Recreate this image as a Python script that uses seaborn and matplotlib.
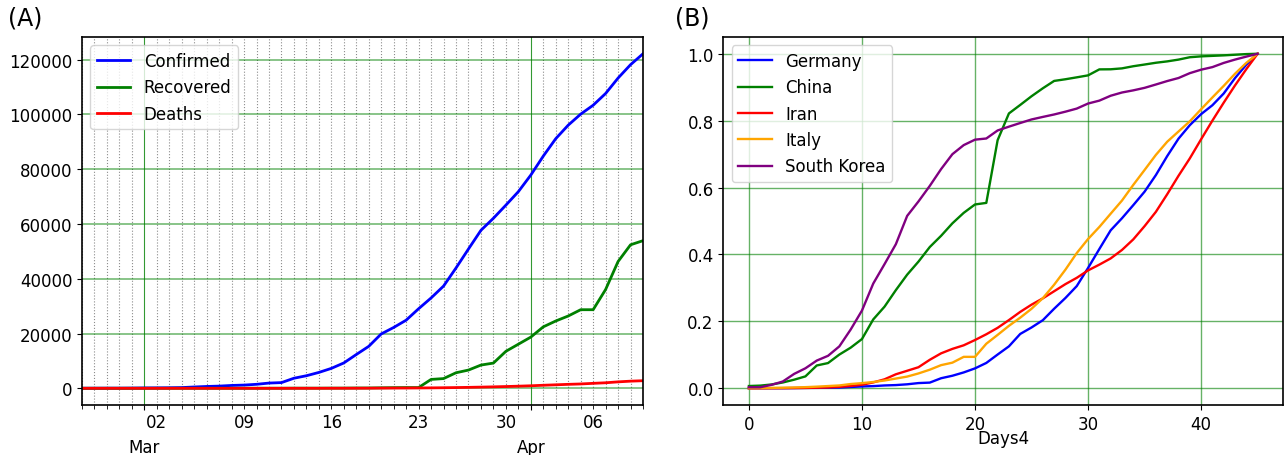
import numpy as np
import pandas as pd
import matplotlib
matplotlib.use("Agg")
import matplotlib.pyplot as plt
import matplotlib.dates as mdates
from matplotlib.ticker import FuncFormatter, MultipleLocator
import seaborn as sns

# ---- Panel A: Germany cumulative counts, one value per day from 2020-02-25 ----
start_date = "2020-02-25"
confirmed = [17, 27, 46, 48, 79, 130, 159, 196, 262, 482, 670, 799, 1040, 1176,
             1457, 1908, 2078, 3675, 4585, 5795, 7272, 9257, 12327, 15320, 19848,
             22213, 24873, 29056, 32986, 37323, 43938, 50871, 57695, 62095, 66885,
             71808, 77872, 84794, 91159, 96092, 100123, 103374, 107663, 113296,
             118181, 122171]
recovered = [14, 14, 15, 16, 16, 16, 16, 16, 16, 16, 17, 17, 17, 18, 18, 25, 25,
             46, 46, 46, 67, 67, 105, 113, 180, 233, 266, 266, 3243, 3547, 5673,
             6658, 8481, 9211, 13500, 16100, 18700, 22440, 24575, 26400, 28700,
             28700, 36081, 46300, 52407, 53913]
deaths = [0, 0, 0, 0, 0, 0, 0, 0, 0, 0, 0, 0, 0, 2, 2, 3, 3, 7, 9, 11, 17, 24,
          28, 44, 67, 84, 94, 123, 157, 206, 267, 342, 433, 533, 645, 775, 920,
          1107, 1275, 1444, 1584, 1810, 2016, 2349, 2607, 2767]

# ---- Panel B: share of the day-45 total, per country ----
days = list(range(46))
china = [0.0068, 0.0080, 0.0114, 0.0174, 0.0257, 0.0356, 0.0682, 0.0754, 0.1008,
         0.1214, 0.1472, 0.2059, 0.2441, 0.2935, 0.3397, 0.3787, 0.4223, 0.4558,
         0.4931, 0.5244, 0.5495, 0.5542, 0.7416, 0.8216, 0.8470, 0.8730, 0.8968,
         0.9188, 0.9238, 0.9295, 0.9354, 0.9533, 0.9536, 0.9563, 0.9627, 0.9678,
         0.9731, 0.9772, 0.9825, 0.9896, 0.9922, 0.9937, 0.9952, 0.9971, 0.9990,
         1.0]
iran = [0.0000, 0.0001, 0.0003, 0.0005, 0.0008, 0.0011, 0.0017, 0.0025, 0.0044,
        0.0070, 0.0106, 0.0175, 0.0269, 0.0419, 0.0524, 0.0630, 0.0852, 0.1045,
        0.1178, 0.1285, 0.1443, 0.1615, 0.1807, 0.2039, 0.2284, 0.2500, 0.2689,
        0.2901, 0.3114, 0.3302, 0.3524, 0.3697, 0.3882, 0.4135, 0.4451, 0.4847,
        0.5275, 0.5800, 0.6352, 0.6872, 0.7444, 0.8002, 0.8538, 0.9054, 0.9541,
        1.0]
italy = [0.0002, 0.0005, 0.0012, 0.0017, 0.0024, 0.0034, 0.0049, 0.0067, 0.0085,
         0.0128, 0.0154, 0.0189, 0.0233, 0.0291, 0.0350, 0.0444, 0.0556, 0.0692,
         0.0766, 0.0940, 0.0940, 0.1332, 0.1596, 0.1867, 0.2111, 0.2377, 0.2694,
         0.3096, 0.3547, 0.4042, 0.4462, 0.4823, 0.5219, 0.5612, 0.6080, 0.6526,
         0.6977, 0.7370, 0.7676, 0.7981, 0.8342, 0.8694, 0.9040, 0.9403, 0.9728,
         1.0]
south_korea = [0.0031, 0.0031, 0.0103, 0.0203, 0.0430, 0.0598, 0.0828, 0.0971,
               0.1253, 0.1755, 0.2323, 0.3131, 0.3713, 0.4308, 0.5154, 0.5586,
               0.6050, 0.6552, 0.6998, 0.7269, 0.7432, 0.7467, 0.7707, 0.7821,
               0.7930, 0.8036, 0.8112, 0.8185, 0.8269, 0.8361, 0.8512, 0.8599,
               0.8745, 0.8842, 0.8906, 0.8981, 0.9081, 0.9184, 0.9275, 0.9420,
               0.9524, 0.9601, 0.9726, 0.9826, 0.9915, 1.0]
germany = [c / confirmed[-1] for c in confirmed]

plt.rcParams["font.family"] = ["DejaVu Sans"]
plt.rcParams["font.size"] = 12

dates = pd.date_range(start_date, periods=len(confirmed), freq="D")

fig = plt.figure(figsize=(12.85, 4.56), dpi=100)
ax1 = fig.add_axes([0.0638, 0.1096, 0.4366, 0.807])
ax2 = fig.add_axes([0.5630, 0.1096, 0.4355, 0.807])

# Panel A
for values, label, color in [(confirmed, "Confirmed", "blue"),
                             (recovered, "Recovered", "green"),
                             (deaths, "Deaths", "red")]:
    sns.lineplot(x=dates, y=values, ax=ax1, color=color, label=label, lw=2)

ax1.set_xlim(dates[0], dates[-1])
ax1.set_xlabel("")
ax1.set_ylabel("")
ax1.yaxis.set_major_locator(MultipleLocator(20000))
ax1.xaxis.set_major_locator(mdates.MonthLocator())
ax1.xaxis.set_major_formatter(mdates.DateFormatter("%b"))
ax1.xaxis.set_minor_locator(mdates.DayLocator())


def monday_label(value, pos):
    d = mdates.num2date(value)
    return d.strftime("%d") if d.weekday() == 0 else ""


ax1.xaxis.set_minor_formatter(FuncFormatter(monday_label))
ax1.tick_params(axis="x", which="minor", length=3, pad=2.5, labelsize=12)
ax1.tick_params(axis="x", which="major", pad=20)
ax1.grid(which="major", axis="y", color="green", alpha=0.5, lw=1.3)
ax1.grid(which="major", axis="x", color="green", alpha=0.8, lw=0.8)
ax1.grid(which="minor", axis="x", color="0.55", ls=":", lw=0.8)
ax1.legend(loc="upper left", fontsize=12)

# Panel B
for values, label, color in [(germany, "Germany", "blue"),
                             (china, "China", "green"),
                             (iran, "Iran", "red"),
                             (italy, "Italy", "orange"),
                             (south_korea, "South Korea", "purple")]:
    sns.lineplot(x=days, y=values, ax=ax2, color=color, label=label, lw=1.7)

ax2.set_xlabel("Days4", labelpad=-3)
ax2.set_ylabel("")
ax2.xaxis.set_major_locator(MultipleLocator(10))
ax2.yaxis.set_major_locator(MultipleLocator(0.2))
ax2.grid(color="green", alpha=0.6, lw=1)
ax2.legend(loc="upper left", fontsize=12)

for ax in (ax1, ax2):
    for sp in ax.spines.values():
        sp.set_linewidth(1.2)

fig.text(0.006, 0.985, "(A)", fontsize=17, va="top")
fig.text(0.525, 0.985, "(B)", fontsize=17, va="top")

fig.savefig("out.png", dpi=100)
